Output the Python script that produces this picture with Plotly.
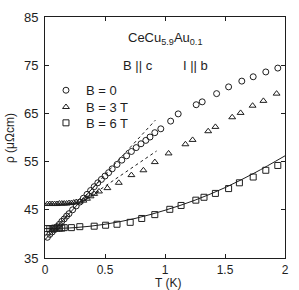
import plotly.graph_objects as go

# ---- data ----
T_b0 = [0.02, 0.04, 0.06, 0.08, 0.10, 0.12, 0.14, 0.16, 0.18, 0.20, 0.23, 0.26, 0.29, 0.32,
        0.35, 0.38, 0.41, 0.44, 0.47, 0.50, 0.53, 0.56, 0.60, 0.64, 0.68, 0.72, 0.76, 0.80,
        0.84, 0.875, 0.915, 0.965, 1.047, 1.11, 1.26, 1.31, 1.43, 1.53, 1.64, 1.735, 1.84, 1.94]
rho_b0 = [39.3, 39.9, 40.4, 40.9, 41.5, 42.0, 42.6, 43.1, 43.7, 44.2, 45.0, 45.8, 46.6, 47.4,
          48.2, 49.0, 49.8, 50.6, 51.3, 52.0, 52.7, 53.5, 54.4, 55.3, 56.2, 57.1, 57.9, 58.7,
          59.4, 60.1, 61.0, 61.8, 63.4, 64.9, 66.8, 67.4, 69.1, 70.5, 71.7, 72.6, 73.6, 74.4]

T_b3 = [0.02, 0.04, 0.06, 0.08, 0.10, 0.12, 0.14, 0.16, 0.18, 0.20, 0.22, 0.24, 0.26, 0.29,
        0.32, 0.35, 0.38, 0.41, 0.45, 0.52, 0.615, 0.72, 0.82, 0.915, 1.03, 1.17, 1.23, 1.36,
        1.42, 1.56, 1.63, 1.73, 1.82, 1.93]
rho_b3 = [46.2, 46.2, 46.2, 46.2, 46.2, 46.3, 46.3, 46.3, 46.3, 46.4, 46.4, 46.5, 46.6, 46.7,
          46.9, 47.3, 47.8, 48.3, 48.8, 49.5, 50.6, 52.2, 53.2, 54.9, 56.7, 58.6, 59.5, 61.3,
          62.2, 64.2, 65.1, 66.6, 67.6, 69.1]

T_b6 = [0.02, 0.04, 0.06, 0.08, 0.10, 0.12, 0.14, 0.16, 0.22, 0.29, 0.41, 0.505, 0.60, 0.71,
        0.806, 0.915, 1.04, 1.134, 1.257, 1.325, 1.42, 1.53, 1.62, 1.735, 1.84, 1.94]
rho_b6 = [41.1, 41.1, 41.1, 41.2, 41.2, 41.2, 41.2, 41.3, 41.3, 41.5, 41.6, 41.8, 42.0, 42.4,
          43.2, 44.0, 45.1, 45.9, 47.0, 47.6, 48.4, 49.4, 50.6, 51.8, 53.2, 54.2]

# fit curves (vertices)
T_fit6 = [0.0, 0.25, 0.5, 0.75, 1.0, 1.25, 1.5, 1.75, 2.0]
rho_fit6 = [41.1, 41.3, 42.0, 43.2, 44.9, 47.0, 49.6, 52.7, 56.2]

T_fit3_low = [0.0, 0.1, 0.2, 0.26, 0.32, 0.38, 0.45]
rho_fit3_low = [46.2, 46.2, 46.3, 46.5, 46.9, 47.7, 48.8]

T_fit0_low = [0.0, 0.45]
rho_fit0_low = [38.8, 50.9]

T_dash0 = [0.30, 0.92]
rho_dash0 = [46.9, 63.6]

T_dash3 = [0.30, 0.93]
rho_dash3 = [46.5, 57.2]

x_ticks = [0, 0.5, 1, 1.5, 2]
x_ticklabels = ["0", "0.5", "1", "1.5", "2"]
y_ticks = [35, 45, 55, 65, 75, 85]

ink = "#1e1e1e"
font = "Liberation Sans, Arial, sans-serif"

W, H = 299, 290
ML, MR, MT, MB = 45, 10, 14, 32
plot_w = W - ML - MR
plot_h = H - MT - MB


def px_x(px):
    return (px - ML) / plot_w


def px_y(py):
    return (H - MB - py) / plot_h


fig = go.Figure()

# fit lines
fig.add_trace(go.Scatter(x=T_fit6, y=rho_fit6, mode="lines", line=dict(color=ink, width=1),
                         line_shape="spline", showlegend=False, hoverinfo="skip"))
fig.add_trace(go.Scatter(x=T_fit3_low, y=rho_fit3_low, mode="lines", line=dict(color=ink, width=1),
                         line_shape="spline", showlegend=False, hoverinfo="skip"))
fig.add_trace(go.Scatter(x=T_fit0_low, y=rho_fit0_low, mode="lines", line=dict(color=ink, width=1),
                         showlegend=False, hoverinfo="skip"))
fig.add_trace(go.Scatter(x=T_dash0, y=rho_dash0, mode="lines",
                         line=dict(color=ink, width=1, dash="3px,3px"),
                         showlegend=False, hoverinfo="skip"))
fig.add_trace(go.Scatter(x=T_dash3, y=rho_dash3, mode="lines",
                         line=dict(color=ink, width=1, dash="3px,3px"),
                         showlegend=False, hoverinfo="skip"))

# data
fig.add_trace(go.Scatter(x=T_b0, y=rho_b0, mode="markers", name="B = 0", legend="legend",
                         marker=dict(symbol="circle-open", size=6, color=ink, line=dict(width=1))))
fig.add_trace(go.Scatter(x=T_b3, y=rho_b3, mode="markers", name="B = 3 T", legend="legend2",
                         marker=dict(symbol="triangle-up-open", size=6, color=ink, line=dict(width=1))))
fig.add_trace(go.Scatter(x=T_b6, y=rho_b6, mode="markers", name="B = 6 T", legend="legend3",
                         marker=dict(symbol="square-open", size=6, color=ink, line=dict(width=1))))

axis_common = dict(showgrid=False, zeroline=False, showline=True, linecolor=ink, linewidth=1,
                   mirror="ticks", ticks="inside", ticklen=4, tickwidth=1, tickcolor=ink)

fig.update_xaxes(range=[0, 2], tickvals=x_ticks, ticktext=x_ticklabels, ticklabelstandoff=1,
                 tickfont=dict(family=font, size=12, color=ink), **axis_common)
fig.update_yaxes(range=[35, 85], tickvals=y_ticks, ticklabelstandoff=3,
                 tickfont=dict(family=font, size=13, color=ink), **axis_common)


def leg(center_y):
    return dict(x=px_x(46), y=px_y(center_y - 16), xanchor="left", yanchor="top",
                font=dict(family=font, size=13, color=ink),
                bgcolor="rgba(0,0,0,0)", itemwidth=30)


fig.update_layout(
    width=W, height=H,
    margin=dict(l=ML, r=MR, t=MT, b=MB),
    paper_bgcolor="white", plot_bgcolor="white",
    showlegend=True,
    legend=leg(89), legend2=leg(106), legend3=leg(122),
    annotations=[
        dict(text="CeCu<sub>5.9</sub>Au<sub>0.1</sub>", x=px_x(167), y=px_y(36),
             xref="paper", yref="paper",
             xanchor="center", yanchor="middle", showarrow=False,
             font=dict(family=font, size=13, color=ink)),
        dict(text="B || c", x=px_x(122), y=px_y(63), xref="paper", yref="paper",
             xanchor="left", yanchor="middle", showarrow=False,
             font=dict(family=font, size=13, color=ink)),
        dict(text="I || b", x=px_x(183), y=px_y(63), xref="paper", yref="paper",
             xanchor="left", yanchor="middle", showarrow=False,
             font=dict(family=font, size=13, color=ink)),
        dict(text="ρ (μΩcm)", x=px_x(10), y=px_y(137), xref="paper", yref="paper",
             xanchor="center", yanchor="middle", showarrow=False, textangle=-90,
             font=dict(family=font, size=12, color=ink)),
        dict(text="T (K)", x=px_x(170), y=px_y(274), xref="paper", yref="paper",
             xanchor="center", yanchor="top", showarrow=False,
             font=dict(family=font, size=12, color=ink)),
    ],
)

fig.write_html("out.html", config={"displayModeBar": False},
               post_script="document.body.style.margin='0px';")
